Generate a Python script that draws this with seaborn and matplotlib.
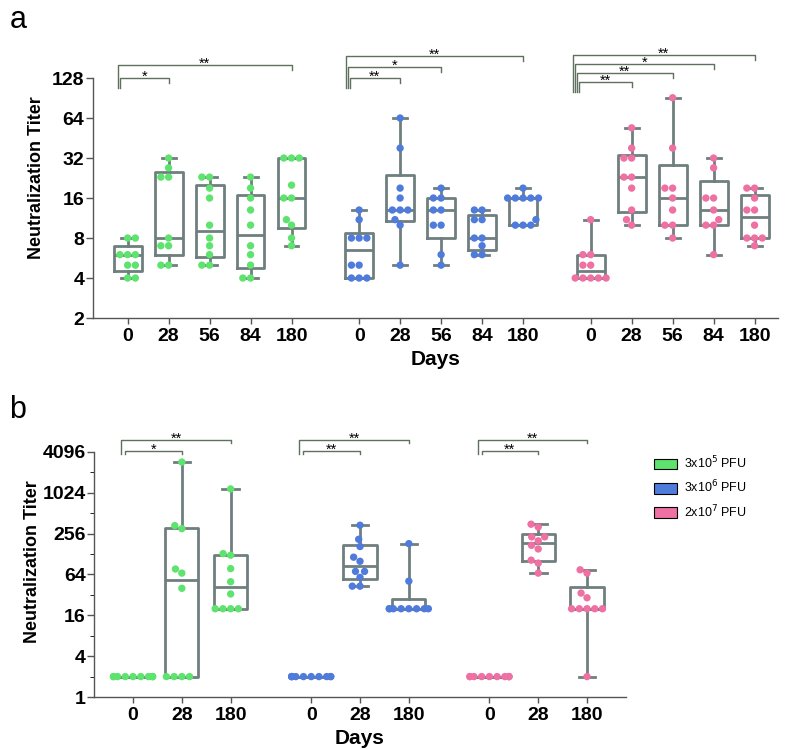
import numpy as np
import pandas as pd
import seaborn as sns
import matplotlib.pyplot as plt
from matplotlib.patches import Patch
from matplotlib import font_manager

# ---- data ----
doses = ['3x10$^5$ PFU', '3x10$^6$ PFU', '2x10$^7$ PFU']
colors = ['#5de36e', '#4f7bdc', '#ef70a2']

days_a = ['0', '28', '56', '84', '180']
a_low = [[4, 4, 5, 5, 6, 6, 6, 8, 8],
         [5, 5, 7, 7, 8, 23, 23, 27, 32],
         [5, 5, 6, 7, 8, 10, 16, 19, 23, 23],
         [4, 4, 5, 6, 7, 10, 13, 16, 19, 23],
         [7, 8, 10, 11, 16, 16, 20, 32, 32, 32]]
a_mid = [[4, 4, 4, 5, 5, 8, 8, 8, 11, 13],
         [5, 10, 11, 13, 13, 13, 16, 19, 38, 64],
         [5, 6, 10, 10, 13, 13, 16, 16, 19],
         [6, 6, 7, 8, 8, 11, 11, 13, 13],
         [10, 10, 10, 11, 16, 16, 16, 16, 16, 19]]
a_high = [[4, 4, 4, 4, 4, 5, 5, 6, 6, 11],
          [10, 11, 13, 19, 23, 23, 32, 32, 38, 54],
          [8, 10, 10, 13, 16, 19, 19, 38, 91],
          [6, 10, 10, 11, 13, 16, 16, 27, 32],
          [7, 8, 8, 8, 10, 13, 13, 16, 19, 19]]

days_b = ['0', '28', '180']
b_low = [[2, 2, 2, 2, 2, 2, 2, 2, 2, 2],
         [2, 2, 2, 2, 40, 67, 77, 303, 336, 2900],
         [20, 20, 20, 20, 33, 50, 78, 123, 130, 1167]]
b_mid = [[2, 2, 2, 2, 2, 2, 2, 2, 2, 2],
         [43, 43, 58, 71, 71, 100, 115, 165, 211, 340],
         [20, 20, 20, 20, 20, 20, 20, 20, 51, 182]]
b_high = [[2, 2, 2, 2, 2, 2, 2, 2, 2, 2],
          [67, 94, 104, 152, 172, 200, 229, 229, 320, 352],
          [2, 20, 20, 20, 20, 20, 29, 34, 67, 75]]

ticks_a = [2, 4, 8, 16, 32, 64, 128]
ticks_b = [1, 4, 16, 64, 256, 1024, 4096]
minor_b = [2, 8, 32, 128, 512, 2048]

# significance vs day 0: (day index, stars)
sig_a = [[(1, '*'), (4, '**')],
         [(1, '**'), (2, '*'), (4, '**')],
         [(1, '**'), (2, '**'), (3, '*'), (4, '**')]]
sig_b = [[(1, '*'), (2, '**')],
         [(1, '**'), (2, '**')],
         [(1, '**'), (2, '**')]]

# ---- style ----
names = {f.name for f in font_manager.fontManager.ttflist}
NARROW = 'Liberation Sans Narrow' if 'Liberation Sans Narrow' in names else 'Liberation Sans'
plt.rcParams['font.family'] = ['Liberation Sans', 'DejaVu Sans']
GAP = 0.65
BOX_C = '#6f7e7e'
BR_C = '#5e705e'
AX_C = '#555555'


def panel(ax, days, groups, sig, ylim, xlim, levels, left0, leftstep, drop, rtick,
          yticks, yminor, ylabelpad):
    step = len(days) + GAP
    rows = []
    stats, positions = [], []
    for g, (dose, vals) in enumerate(zip(doses, groups)):
        for d, v in enumerate(vals):
            pos = g * step + d
            for t in v:
                rows.append({'pos': pos, 'dose': dose, 'titer': t})
            q1, med, q3 = np.percentile(v, [25, 50, 75], method='weibull')
            stats.append({'med': med, 'q1': q1, 'q3': q3,
                          'whislo': min(v), 'whishi': max(v), 'fliers': []})
            positions.append(pos)
    df = pd.DataFrame(rows)

    ax.set_yscale('log', base=2)
    ax.set_ylim(*ylim)
    ax.set_xlim(*xlim)
    lp = dict(color=BOX_C, linewidth=2.0)
    ax.bxp(stats, positions=positions, widths=0.68, capwidths=0.34,
           showfliers=False, manage_ticks=False, boxprops=lp,
           whiskerprops=lp, capprops=lp, medianprops=lp)
    sns.swarmplot(data=df, x='pos', y='titer', hue='dose', palette=dict(zip(doses, colors)),
                  native_scale=True, size=5.3, linewidth=0, legend=False,
                  ax=ax, zorder=3)
    ax.set_ylim(*ylim)
    ax.set_xlim(*xlim)

    # significance brackets
    for g, comps in enumerate(sig):
        n = len(comps)
        base = g * step
        bottom = 2 ** (levels[g][0] - drop)
        for k, (d, stars) in enumerate(comps):
            y = 2 ** levels[g][k]
            xl = base + left0 - leftstep * (k + n - 2)
            xr = base + d
            ax.plot([xl, xl, xr, xr], [bottom, y, y, y / 2 ** rtick],
                    color=BR_C, lw=1, clip_on=False)
            ax.annotate(stars, xy=((xl + xr) / 2, y), xytext=(0, -2),
                        textcoords='offset points', ha='center', va='baseline',
                        fontsize=10.5, annotation_clip=False)

    ticks = [g * step + d for g in range(3) for d in range(len(days))]
    ax.set_xticks(ticks)
    ax.set_xticklabels(days * 3, fontfamily=NARROW, fontweight='bold', fontsize=14)
    ax.set_yticks(yticks)
    ax.set_yticklabels([str(t) for t in yticks], fontfamily=NARROW,
                       fontweight='bold', fontsize=14)
    ax.set_yticks(yminor, minor=True)
    ax.yaxis.set_minor_formatter(plt.NullFormatter())
    ax.set_xlabel('Days', fontfamily=NARROW, fontweight='bold', fontsize=15, labelpad=4)
    ax.set_ylabel('Neutralization Titer', fontweight='bold', fontsize=13,
                  labelpad=ylabelpad)
    ax.spines[['top', 'right']].set_visible(False)
    for s in ['left', 'bottom']:
        ax.spines[s].set_color(AX_C)
        ax.spines[s].set_linewidth(1)
    ax.spines['left'].set_bounds(yticks[0], yticks[-1])
    ax.tick_params(axis='both', colors=AX_C, labelcolor='black', width=1)
    ax.tick_params(axis='x', length=4, pad=3)
    ax.tick_params(axis='y', which='major', length=5, pad=1)
    ax.tick_params(axis='y', which='minor', length=3)


fig = plt.figure(figsize=(7.93, 7.49), dpi=100)

# panel a
ax_a = fig.add_axes([0.117, 0.5754, 0.864, 0.3738])
panel(ax_a, days_a, [a_low, a_mid, a_high], sig_a, (2, 256), (-0.85, 15.87),
      [[7.0, 7.33], [7.0, 7.275, 7.55], [6.9, 7.125, 7.35, 7.575]],
      -0.18, 0.05, 0.25, 0.125, ticks_a, [], 5)

# panel b
ax_b = fig.add_axes([0.1185, 0.0694, 0.671, 0.3624])
panel(ax_b, days_b, [b_low, b_mid, b_high], sig_b, (1, 10000), (-0.8, 10.1),
      [[12.05, 12.59]] * 3, -0.16, 0.08, 0.15, 0.15, ticks_b, minor_b, 1)

fig.text(0.012, 0.973, 'a', fontsize=22, va='center')
fig.text(0.012, 0.452, 'b', fontsize=22, va='center')

handles = [Patch(facecolor=c, edgecolor='black', linewidth=0.8, label=d)
           for c, d in zip(colors, doses)]
fig.legend(handles=handles, loc='upper left', bbox_to_anchor=(0.8247, 0.393),
           frameon=False, fontsize=9, handlelength=1.84, handleheight=0.96,
           labelspacing=0.62, handletextpad=0.6, borderpad=0, borderaxespad=0)

fig.savefig('out.png', dpi=100)
